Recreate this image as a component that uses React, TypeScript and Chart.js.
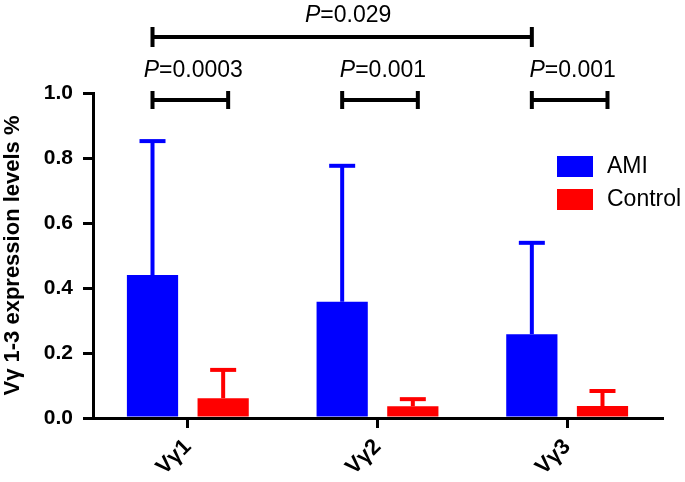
import React, { useEffect, useRef } from "react";
import { Chart, registerables } from "chart.js";

Chart.register(...registerables);

const categories = ["Vγ1", "Vγ2", "Vγ3"];
const amiMean = [0.44, 0.358, 0.258];
const amiSD = [0.412, 0.418, 0.281];
const controlMean = [0.061, 0.036, 0.037];
const controlSD = [0.087, 0.022, 0.046];
const yTicks = [0, 0.2, 0.4, 0.6, 0.8, 1.0];
const pairPValues = ["0.0003", "0.001", "0.001"];
const overallPValue = "0.029";

const FONT = "'Liberation Sans', Arial, Helvetica, sans-serif";
const AMI_COLOR = "#0000FF";
const CONTROL_COLOR = "#FF0000";

function drawBracket(ctx: CanvasRenderingContext2D, x1: number, x2: number, y: number, capH: number) {
  ctx.save();
  ctx.strokeStyle = "#000";
  ctx.lineWidth = 4;
  ctx.lineCap = "butt";
  ctx.beginPath();
  ctx.moveTo(x1, y);
  ctx.lineTo(x2, y);
  ctx.stroke();
  ctx.beginPath();
  ctx.moveTo(x1, y - capH / 2);
  ctx.lineTo(x1, y + capH / 2);
  ctx.moveTo(x2, y - capH / 2);
  ctx.lineTo(x2, y + capH / 2);
  ctx.stroke();
  ctx.restore();
}

function drawPText(ctx: CanvasRenderingContext2D, value: string, cx: number, baseline: number) {
  ctx.save();
  ctx.fillStyle = "#000";
  ctx.textBaseline = "alphabetic";
  ctx.textAlign = "left";
  const size = 23;
  ctx.font = `italic ${size}px ${FONT}`;
  const wP = ctx.measureText("P").width;
  ctx.font = `${size}px ${FONT}`;
  const rest = "=" + value;
  const wR = ctx.measureText(rest).width;
  const start = cx - (wP + wR) / 2;
  ctx.font = `italic ${size}px ${FONT}`;
  ctx.fillText("P", start, baseline);
  ctx.font = `${size}px ${FONT}`;
  ctx.fillText(rest, start + wP, baseline);
  ctx.restore();
}

const annotPlugin = {
  id: "annotations",
  afterDatasetsDraw(chart: any) {
    const ctx = chart.ctx as CanvasRenderingContext2D;
    const yScale = chart.scales.y;
    const means = [amiMean, controlMean];
    const sds = [amiSD, controlSD];
    ctx.save();
    for (let d = 0; d < 2; d++) {
      const meta = chart.getDatasetMeta(d);
      const color = chart.data.datasets[d].backgroundColor;
      meta.data.forEach((bar: any, i: number) => {
        const top = yScale.getPixelForValue(means[d][i] + sds[d][i]);
        ctx.strokeStyle = color;
        ctx.lineWidth = 4;
        ctx.lineCap = "butt";
        ctx.beginPath();
        ctx.moveTo(bar.x, bar.y);
        ctx.lineTo(bar.x, top);
        ctx.stroke();
        ctx.beginPath();
        ctx.moveTo(bar.x - 13, top);
        ctx.lineTo(bar.x + 13, top);
        ctx.stroke();
      });
    }
    ctx.restore();
  },
  afterDraw(chart: any) {
    const ctx = chart.ctx as CanvasRenderingContext2D;
    const area = chart.chartArea;
    const m0 = chart.getDatasetMeta(0);
    const m1 = chart.getDatasetMeta(1);
    categories.forEach((_, i) => {
      const x1 = m0.data[i].x;
      const x2 = m1.data[i].x + 5;
      drawBracket(ctx, x1, x2, area.top + 7, 18);
      drawPText(ctx, pairPValues[i], (x1 + x2) / 2 + 3, area.top - 16);
    });
    const bx1 = m0.data[0].x;
    const bx2 = m0.data[categories.length - 1].x;
    drawBracket(ctx, bx1, bx2, area.top - 56, 20);
    drawPText(ctx, overallPValue, (bx1 + bx2) / 2 + 6, area.top - 71);

    ctx.save();
    const lx = area.right - 105;
    const ly = area.top + 63;
    chart.data.datasets.forEach((ds: any, i: number) => {
      const yTop = ly + i * 33;
      ctx.fillStyle = ds.backgroundColor;
      ctx.fillRect(lx, yTop, 36, 21);
      ctx.fillStyle = "#000";
      ctx.font = `23px ${FONT}`;
      ctx.textBaseline = "middle";
      ctx.textAlign = "left";
      ctx.fillText(ds.label, lx + 50, yTop + 11);
    });
    ctx.restore();
  },
};

export default function App() {
  const canvasRef = useRef<HTMLCanvasElement | null>(null);

  useEffect(() => {
    if (!canvasRef.current) return;
    const chart = new Chart(canvasRef.current, {
      type: "bar",
      data: {
        labels: categories,
        datasets: [
          {
            label: "AMI",
            data: amiMean,
            backgroundColor: AMI_COLOR,
            borderWidth: 0,
            categoryPercentage: 0.745,
            barPercentage: 0.725,
          },
          {
            label: "Control",
            data: controlMean,
            backgroundColor: CONTROL_COLOR,
            borderWidth: 0,
            categoryPercentage: 0.745,
            barPercentage: 0.725,
          },
        ],
      },
      options: {
        animation: false,
        responsive: true,
        maintainAspectRatio: false,
        layout: { padding: { top: 93, right: 23, bottom: 0, left: 0 } },
        plugins: {
          legend: { display: false },
          tooltip: { enabled: false },
        },
        scales: {
          x: {
            grid: {
              display: true,
              drawOnChartArea: false,
              drawTicks: true,
              tickLength: 10,
              lineWidth: 3,
              color: "#000",
              offset: false,
            },
            border: { display: true, color: "#000", width: 3 },
            ticks: {
              color: "#000",
              font: { family: FONT, size: 22, weight: "bold" },
              maxRotation: 45,
              minRotation: 45,
              padding: 6,
            },
            afterFit: (s: any) => {
              s.height = 64;
            },
          },
          y: {
            min: 0,
            max: 1,
            afterBuildTicks: (s: any) => {
              s.ticks = yTicks.map((v) => ({ value: v }));
            },
            grid: {
              drawOnChartArea: false,
              drawTicks: true,
              tickLength: 10,
              lineWidth: 3,
              color: "#000",
            },
            border: { display: true, color: "#000", width: 3 },
            ticks: {
              color: "#000",
              font: { family: FONT, size: 21, weight: "bold" },
              padding: 10,
              callback: (v: any) => Number(v).toFixed(1),
            },
            title: {
              display: true,
              text: "Vγ 1-3 expression levels %",
              color: "#000",
              font: { family: FONT, size: 22, weight: "bold" },
              padding: 0,
            },
            afterFit: (s: any) => {
              s.width = 93;
            },
          },
        },
      },
      plugins: [annotPlugin],
    });
    return () => chart.destroy();
  }, []);

  return (
    <div style={{ position: "absolute", left: 0, top: 0, width: 685, height: 482 }}>
      <canvas ref={canvasRef} />
    </div>
  );
}
